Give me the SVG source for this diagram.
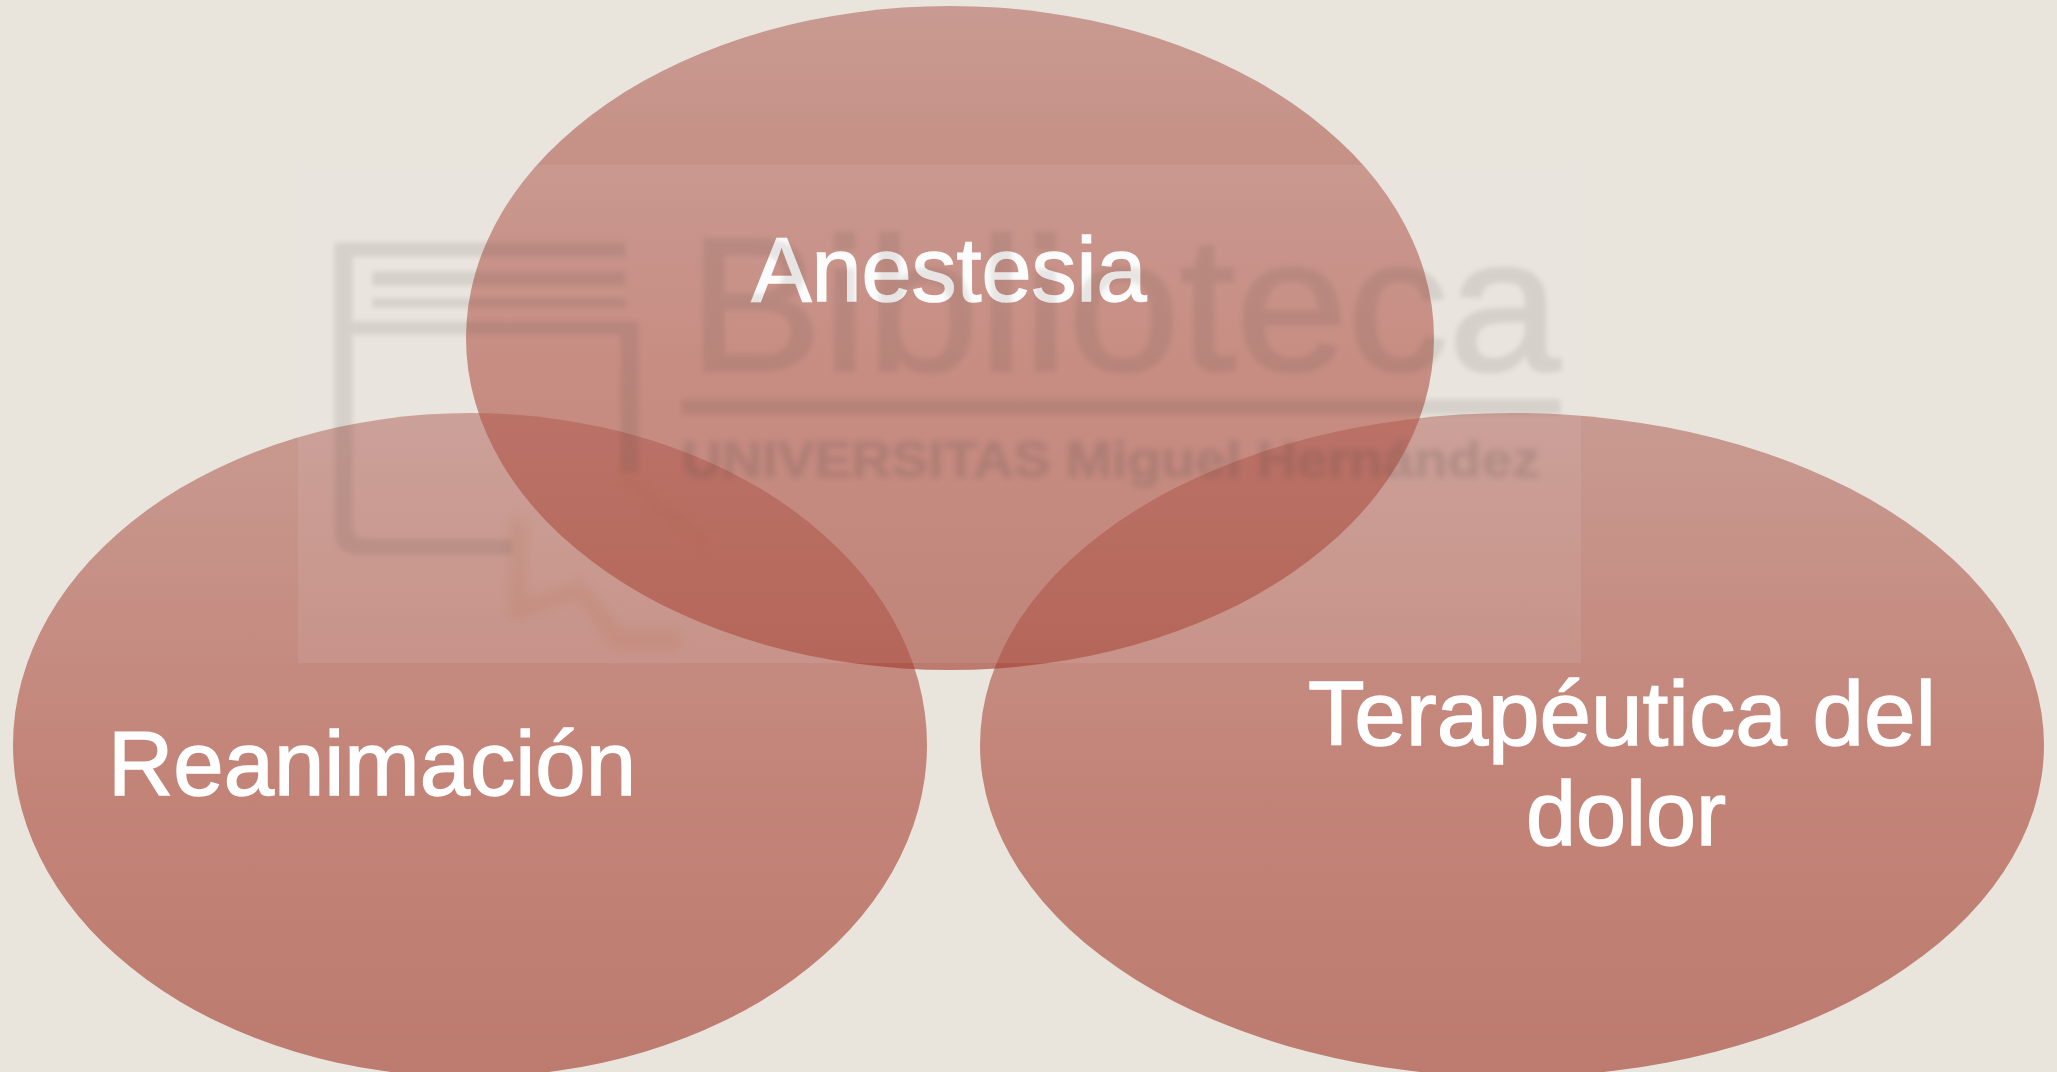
<svg xmlns="http://www.w3.org/2000/svg" width="2057" height="1072" viewBox="0 0 2057 1072">
<style>
.lbl{font-family:"Liberation Sans",Arial,sans-serif;font-size:90px;fill:#fff;stroke:#fff;stroke-width:1.5px;text-anchor:middle}
.blob{fill:url(#g);fill-opacity:.62}
.wm{fill:#4c4640;stroke:#4c4640}
</style>
<defs>
<linearGradient id="g" x1="0" y1="0" x2="0" y2="1">
<stop offset="0" stop-color="rgb(180,108,98)"/>
<stop offset=".55" stop-color="rgb(172,72,58)"/>
<stop offset="1" stop-color="rgb(161,58,43)"/>
</linearGradient>
<filter id="b" x="-5%" y="-5%" width="110%" height="110%"><feGaussianBlur stdDeviation="2.6"/></filter>
<filter id="b2" x="-5%" y="-20%" width="110%" height="140%"><feGaussianBlur stdDeviation="3"/></filter>
<filter id="b3" x="-20%" y="-20%" width="140%" height="140%"><feGaussianBlur stdDeviation="6"/></filter>
</defs>
<rect width="2057" height="1072" fill="#e9e5dd"/>
<g id="node-reanimacion">
<ellipse class="blob" cx="470" cy="745" rx="457" ry="332"/>
<text class="lbl" x="372" y="795" textLength="528" lengthAdjust="spacingAndGlyphs">Reanimación</text>
</g>
<g id="node-terapeutica">
<ellipse class="blob" cx="1512" cy="745" rx="532" ry="332"/>
<text class="lbl" x="1622" y="745" textLength="628" lengthAdjust="spacingAndGlyphs">Terapéutica del</text>
<text class="lbl" x="1626" y="845">dolor</text>
</g>
<g id="node-anestesia">
<ellipse class="blob" cx="950" cy="338" rx="484" ry="332"/>
<text class="lbl" x="949" y="301">Anestesia</text>
</g>
<g id="watermark">
<rect x="298" y="165" width="1283" height="498" fill="#e9e5dd" fill-opacity=".1"/>
<g filter="url(#b)" opacity=".12">
<text class="wm" x="688" y="370" font-family="Liberation Sans,Arial,sans-serif" font-size="190" stroke-width="3" textLength="872" lengthAdjust="spacingAndGlyphs">Biblioteca</text>
</g>
<g filter="url(#b2)" opacity=".18">
<text class="wm" x="682" y="477" font-family="Liberation Sans,Arial,sans-serif" font-weight="bold" font-size="50" stroke-width="1" textLength="858" lengthAdjust="spacingAndGlyphs">UNIVERSITAS Miguel Hernández</text>
</g>
<g filter="url(#b)" opacity=".12" class="wm" stroke="none">
<rect x="682" y="400" width="878" height="14"/>
<rect x="335" y="243" width="290" height="13"/>
<rect x="373" y="272" width="252" height="13"/>
<rect x="373" y="299" width="252" height="8"/>
<path d="M347 322H638V472H621V334H352V525Q352 540 367 540H512V554H360Q335 554 335 530V256H352V322Z"/>
</g>
<path d="M518 520V610L580 590 618 640H680M622 472L706 548" fill="none" stroke="#b06a40" stroke-width="16" filter="url(#b3)" opacity=".15"/>
</g>
</svg>
